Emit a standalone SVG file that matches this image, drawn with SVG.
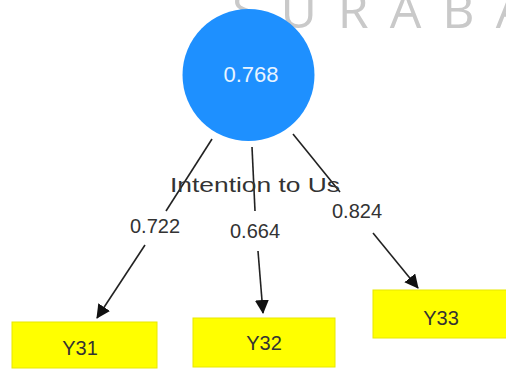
<svg xmlns="http://www.w3.org/2000/svg" width="506" height="370" viewBox="0 0 506 370">
<defs>
<style>
.lbl{font-family:"Liberation Sans","Open Sans",sans-serif;font-size:20px;fill:#333;}
.box{fill:#ffff00;stroke:#e8e800;stroke-width:1;}
.btxt{font-family:"Liberation Sans","Open Sans",sans-serif;font-size:20px;fill:#333;text-anchor:middle;}
.edge{stroke:#222;stroke-width:1.6;fill:none;}
.wm{font-family:"Open Sans","Liberation Sans",sans-serif;font-size:50px;fill:#c9c9c9;}
</style>
<marker id="arr" markerWidth="14" markerHeight="14" refX="13" refY="7" orient="auto" markerUnits="userSpaceOnUse" viewBox="0 0 14 14">
<path d="M0,0 L14,7 L0,14 z" fill="#111"/>
</marker>
</defs>
<rect width="506" height="370" fill="#ffffff"/>
<text class="wm" x="232" y="28" letter-spacing="21">SURABA</text>
<g id="connectors">
<line class="edge" x1="212" y1="139" x2="166" y2="211"/>
<line class="edge" x1="145" y1="245" x2="97" y2="318" marker-end="url(#arr)"/>
<line class="edge" x1="252" y1="147" x2="255" y2="211"/>
<line class="edge" x1="258" y1="251" x2="263" y2="313" marker-end="url(#arr)"/>
<line class="edge" x1="293" y1="134" x2="340" y2="192"/>
<line class="edge" x1="373" y1="233" x2="418" y2="288" marker-end="url(#arr)"/>
</g>
<g id="node-intention">
<circle cx="248.5" cy="75" r="66" fill="#1e90ff"/>
<text x="251" y="82" font-family="Liberation Sans,Open Sans,sans-serif" font-size="22" fill="#e8f4ff" text-anchor="middle">0.768</text>
<text class="lbl" x="170" y="192" font-size="23" textLength="170" lengthAdjust="spacingAndGlyphs">Intention to Us</text>
</g>
<g id="edge-labels">
<text class="lbl" x="130" y="233">0.722</text>
<text class="lbl" x="230" y="238">0.664</text>
<text class="lbl" x="332" y="218">0.824</text>
</g>
<g id="node-y31">
<rect class="box" x="12" y="322" width="145" height="46"/>
<text class="btxt" x="80" y="355">Y31</text>
</g>
<g id="node-y32">
<rect class="box" x="193" y="318" width="142" height="49"/>
<text class="btxt" x="264" y="350">Y32</text>
</g>
<g id="node-y33">
<rect class="box" x="373" y="290" width="135" height="48"/>
<text class="btxt" x="441" y="325">Y33</text>
</g>
</svg>
